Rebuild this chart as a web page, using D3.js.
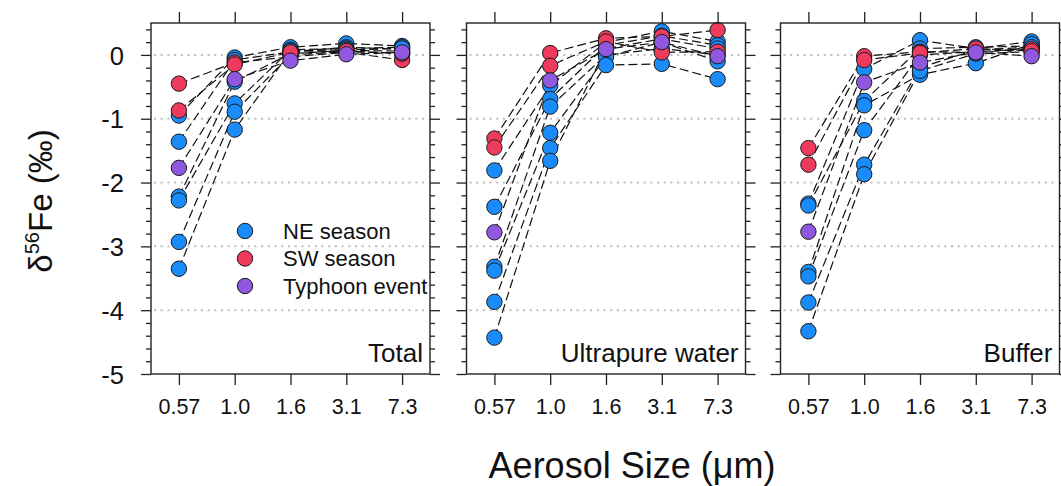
<!DOCTYPE html>
<html>
<head>
<meta charset="utf-8">
<script src="https://cdn.jsdelivr.net/npm/d3@7"></script>
<style>
  html, body { margin: 0; padding: 0; background: #fff; }
  svg { display: block; font-family: "Liberation Sans", Arial, sans-serif; }
</style>
</head>
<body>
<svg id="chart" width="1061" height="486"></svg>
<script>
// ---- data ----
const sizes = ["0.57", "1.0", "1.6", "3.1", "7.3"];
const panelNames = ["Total", "Ultrapure water", "Buffer"];
const seasonNames = ["NE season", "SW season", "Typhoon event"];
// season index of each sample (0 = NE, 1 = SW, 2 = Typhoon)
const sampleSeason = [0, 0, 0, 0, 0, 0, 1, 1, 2];
const yTicks = [-5, -4, -3, -2, -1, 0];

// δ56Fe values per sample, one value per aerosol size
const totalValues = [
  [-0.95, -0.04, 0.12, 0.18, 0.14],
  [-1.36, -0.08, 0.05, 0.12, 0.09],
  [-2.22, -0.42, 0.02, 0.07, 0.06],
  [-2.28, -0.76, 0.08, 0.10, 0.12],
  [-2.93, -0.89, 0.00, 0.05, 0.03],
  [-3.35, -1.17, 0.06, 0.08, 0.10],
  [-0.45, -0.12, -0.03, 0.04, -0.08],
  [-0.87, -0.15, 0.04, 0.06, 0.02],
  [-1.77, -0.38, -0.09, 0.01, 0.04]
];
const waterValues = [
  [-1.81, -0.48, 0.20, 0.37, 0.21],
  [-2.38, -0.69, 0.15, 0.30, 0.15],
  [-3.32, -0.81, 0.00, 0.10, 0.00],
  [-3.38, -1.22, -0.03, 0.20, -0.10],
  [-3.87, -1.46, -0.16, -0.14, -0.38],
  [-4.43, -1.66, 0.10, 0.25, 0.10],
  [-1.31, 0.03, 0.26, 0.29, 0.39],
  [-1.45, -0.17, 0.21, 0.04, 0.05],
  [-2.78, -0.40, 0.09, 0.20, -0.02]
];
const bufferValues = [
  [-2.33, -0.22, 0.23, 0.10, 0.21],
  [-2.36, -0.72, 0.10, 0.12, 0.14],
  [-3.40, -0.79, -0.31, -0.13, 0.17],
  [-3.47, -1.18, 0.00, 0.05, 0.10],
  [-3.88, -1.72, -0.20, 0.08, 0.12],
  [-4.33, -1.87, -0.25, 0.02, 0.05],
  [-1.46, -0.02, 0.05, 0.04, 0.09],
  [-1.72, -0.08, 0.03, 0.10, 0.06],
  [-2.77, -0.43, -0.12, 0.04, -0.02]
];
const panelValues = [totalValues, waterValues, bufferValues];

// ---- styling / layout ----
const colors = ["#1a8cfa", "#ee3a5c", "#9058de"];
const panelLeft = [151, 466.5, 780.5];
const panelWidth = 279;
const plotTop = 23, plotBottom = 374;
const FONT = "'Liberation Sans', Arial, sans-serif";

const svg = d3.select("#chart");
const y = d3.scaleLinear().domain([-5, 0.5]).range([plotBottom, plotTop]);
const minorTicks = d3.range(-5, 0.5001, 0.2).map(v => Math.round(v * 10) / 10)
  .filter(v => !yTicks.includes(v));

panelNames.forEach((name, p) => {
  const x0 = panelLeft[p];
  const x = d3.scalePoint().domain(sizes).range([x0, x0 + panelWidth]).padding(0.5);
  const g = svg.append("g");

  // grid lines
  g.selectAll("line.grid").data(yTicks.filter(v => v > -5)).join("line")
    .attr("x1", x0 + 3).attr("x2", x0 + panelWidth - 1)
    .attr("y1", d => y(d)).attr("y2", d => y(d))
    .attr("stroke", "#bdbdbd").attr("stroke-width", 2)
    .attr("stroke-dasharray", "2,4.7");

  // y axes (left + right), major and minor ticks
  const leftMajor = d3.axisLeft(y).tickValues(yTicks).tickSize(10)
    .tickFormat(p === 0 ? (d => String(d)) : () => "");
  const leftMinor = d3.axisLeft(y).tickValues(minorTicks).tickSize(5).tickFormat(() => "");
  const rightMajor = d3.axisRight(y).tickValues(yTicks).tickSize(10).tickFormat(() => "");
  const rightMinor = d3.axisRight(y).tickValues(minorTicks).tickSize(5).tickFormat(() => "");
  [[leftMajor, x0], [leftMinor, x0], [rightMajor, x0 + panelWidth], [rightMinor, x0 + panelWidth]]
    .forEach(([ax, tx]) => {
      const a = g.append("g").attr("transform", `translate(${tx},0)`).call(ax);
      a.attr("font-family", FONT);
      a.select(".domain").remove();
      a.selectAll(".tick line").attr("stroke", "#222").attr("stroke-width", 1.3);
      a.selectAll(".tick text").attr("font-size", 25.5).attr("fill", "#111")
        .attr("font-family", FONT)
        .attr("x", -27).attr("dy", "0.36em");
    });

  // x axes (bottom labelled, top ticks only)
  const xb = g.append("g").attr("transform", `translate(0,${plotBottom})`)
    .call(d3.axisBottom(x).tickSize(11).tickPadding(14));
  xb.attr("font-family", FONT);
  xb.select(".domain").remove();
  xb.selectAll(".tick line").attr("stroke", "#222").attr("stroke-width", 1.3);
  xb.selectAll(".tick text").attr("font-size", 21.5).attr("fill", "#111")
    .attr("font-family", FONT);
  const xt = g.append("g").attr("transform", `translate(0,${plotTop})`)
    .call(d3.axisTop(x).tickSize(11).tickFormat(() => ""));
  xt.select(".domain").remove();
  xt.selectAll(".tick line").attr("stroke", "#222").attr("stroke-width", 1.3);

  // connecting dashed lines
  const line = d3.line().x((d, i) => x(sizes[i])).y(d => y(d));
  const vals = panelValues[p];
  g.selectAll("path.conn").data(vals).join("path")
    .attr("d", line).attr("fill", "none")
    .attr("stroke", "#111").attr("stroke-width", 1.2)
    .attr("stroke-dasharray", "9,4");

  // points (NE first, then SW, then Typhoon on top)
  const pts = [];
  vals.forEach((row, s) => row.forEach((v, i) => pts.push({ s, i, v, c: sampleSeason[s] })));
  pts.sort((a, b) => a.c - b.c);
  g.selectAll("circle.pt").data(pts).join("circle")
    .attr("cx", d => x(sizes[d.i])).attr("cy", d => y(d.v)).attr("r", 7.7)
    .attr("fill", d => colors[d.c]).attr("stroke", "#1a1a1a").attr("stroke-width", 1);

  // frame
  g.append("rect").attr("x", x0).attr("y", plotTop)
    .attr("width", panelWidth).attr("height", plotBottom - plotTop)
    .attr("fill", "none").attr("stroke", "#222").attr("stroke-width", 1.4);

  // panel label
  g.append("text").attr("x", x0 + panelWidth - 7).attr("y", 362)
    .attr("text-anchor", "end").attr("font-size", 26).attr("fill", "#111")
    .attr("font-family", FONT).text(name);
});

// legend in first panel
const legend = svg.append("g").attr("font-family", FONT);
seasonNames.forEach((n, i) => {
  const ly = 231 + i * 27.5;
  legend.append("circle").attr("cx", 245).attr("cy", ly).attr("r", 7.7)
    .attr("fill", colors[i]).attr("stroke", "#1a1a1a").attr("stroke-width", 1);
  legend.append("text").attr("x", 283).attr("y", ly).attr("dy", "0.36em")
    .attr("font-size", 22).attr("fill", "#111").text(n);
});

// axis titles
svg.append("text").attr("x", 632).attr("y", 478).attr("text-anchor", "middle")
  .attr("font-family", FONT)
  .attr("font-size", 36).attr("fill", "#111").text("Aerosol Size (μm)");

const yt = svg.append("text").attr("transform", "translate(52,201) rotate(-90)")
  .attr("font-family", FONT)
  .attr("text-anchor", "middle").attr("font-size", 33).attr("fill", "#111");
yt.append("tspan").text("δ");
yt.append("tspan").attr("font-size", 20).attr("dy", -13).text("56");
yt.append("tspan").attr("dy", 13).text("Fe (‰)");
</script>
</body>
</html>
